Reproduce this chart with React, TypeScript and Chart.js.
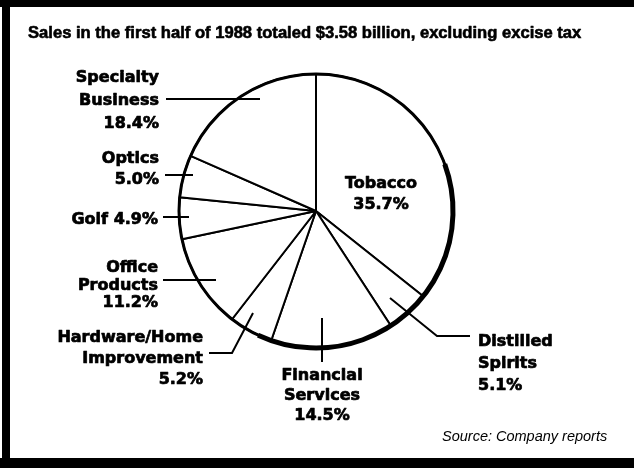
import React, { useEffect, useRef } from "react";
import { Chart, registerables } from "chart.js";

Chart.register(...registerables);

// ---- data ----
const categories = [
  "Tobacco",
  "Distilled Spirits",
  "Financial Services",
  "Hardware/Home Improvement",
  "Office Products",
  "Golf",
  "Optics",
  "Specialty Business",
];
const shares = [35.7, 5.1, 14.5, 5.2, 11.2, 4.9, 5.0, 18.4];
const nameLines = [
  ["Tobacco"],
  ["Distilled", "Spirits"],
  ["Financial", "Services"],
  ["Hardware/Home", "Improvement"],
  ["Office", "Products"],
  ["Golf"],
  ["Optics"],
  ["Specialty", "Business"],
];
const titleText = "Sales in the first half of 1988 totaled $3.58 billion, excluding excise tax";
const sourceText = "Source: Company reports";

// ---- annotation layout (label text positions & leader lines) ----
type Layout = {
  x: number;
  y: number;
  gap: number;
  align: CanvasTextAlign;
  inline?: boolean;
  leader: number[][];
};
const labelLayout: Layout[] = [
  { x: 381, y: 188, gap: 21, align: "center", leader: [] },
  { x: 478, y: 346, gap: 22, align: "left", leader: [[390, 298], [437, 336], [470, 336]] },
  { x: 322, y: 380, gap: 20, align: "center", leader: [[322, 318], [322, 362]] },
  { x: 203, y: 342, gap: 21, align: "right", leader: [[253, 313], [232, 353], [209, 353]] },
  { x: 158, y: 272, gap: 17.5, align: "right", leader: [[163, 280], [216, 280]] },
  { x: 158, y: 224, gap: 0, align: "right", inline: true, leader: [[163, 217], [189, 217]] },
  { x: 159, y: 163, gap: 21, align: "right", leader: [[165, 175], [193, 175]] },
  { x: 159, y: 82, gap: 23, align: "right", leader: [[166, 99], [260, 99]] },
];

const LABEL_FONT = "bold 16px 'DejaVu Sans'";

const framePlugin = {
  id: "frame",
  beforeDraw(chart: any) {
    const ctx = chart.ctx as CanvasRenderingContext2D;
    const W = chart.width;
    const H = chart.height;
    ctx.save();
    ctx.fillStyle = "#ffffff";
    ctx.fillRect(0, 0, W, H);
    ctx.fillStyle = "#000000";
    ctx.fillRect(0, 0, W, 7);
    ctx.fillRect(2, 0, 8, H);
    ctx.fillRect(0, H - 10, W, 10);
    ctx.restore();
  },
};

function heavyText(ctx: CanvasRenderingContext2D, t: string, x: number, y: number, w: number) {
  ctx.fillText(t, x, y);
  ctx.lineWidth = w;
  ctx.lineJoin = "round";
  ctx.strokeText(t, x, y);
}

const annotatePlugin = {
  id: "annotate",
  afterDatasetsDraw(chart: any) {
    const ctx = chart.ctx as CanvasRenderingContext2D;
    const meta = chart.getDatasetMeta(0);
    const first = meta.data[0] as any;
    const { x: cx, y: cy, outerRadius } = first.getProps(["x", "y", "outerRadius"], true);
    ctx.save();
    // heavier outer rim
    ctx.strokeStyle = "#000";
    ctx.lineWidth = 3;
    ctx.beginPath();
    ctx.arc(cx, cy, outerRadius, 0, Math.PI * 2);
    ctx.stroke();
    ctx.lineWidth = 5;
    ctx.beginPath();
    ctx.arc(cx, cy, outerRadius, -Math.PI / 2 + (70 * Math.PI) / 180, -Math.PI / 2 + (205 * Math.PI) / 180);
    ctx.stroke();

    // title
    ctx.fillStyle = "#000";
    ctx.font = "bold 16.6px 'Liberation Sans'";
    ctx.textAlign = "left";
    ctx.textBaseline = "alphabetic";
    heavyText(ctx, titleText, 28, 38, 0.6);

    // labels + leaders
    labelLayout.forEach((lay, i) => {
      const pct = shares[i].toFixed(1) + "%";
      const lines = lay.inline ? [nameLines[i].join(" ") + " " + pct] : [...nameLines[i], pct];
      ctx.font = LABEL_FONT;
      ctx.textAlign = lay.align;
      lines.forEach((t, k) => heavyText(ctx, t, lay.x, lay.y + k * lay.gap, 0.7));
      if (lay.leader.length > 1) {
        ctx.lineWidth = 2;
        ctx.lineCap = "butt";
        ctx.lineJoin = "miter";
        ctx.beginPath();
        lay.leader.forEach(([px, py], k) => (k === 0 ? ctx.moveTo(px, py) : ctx.lineTo(px, py)));
        ctx.stroke();
      }
    });

    // source
    ctx.font = "italic 14.5px 'Liberation Sans'";
    ctx.textAlign = "left";
    ctx.fillText(sourceText, 442, 441);
    ctx.restore();
  },
};

export default function App() {
  const ref = useRef<HTMLCanvasElement | null>(null);
  useEffect(() => {
    if (!ref.current) return;
    const chart = new Chart(ref.current, {
      type: "pie",
      data: {
        labels: categories,
        datasets: [
          {
            data: shares,
            backgroundColor: "#ffffff",
            borderColor: "#000000",
            borderWidth: 2,
            hoverOffset: 0,
          },
        ],
      },
      options: {
        responsive: false,
        animation: false,
        layout: { padding: { left: 178, right: 180, top: 73, bottom: 119 } },
        plugins: {
          legend: { display: false },
          tooltip: { enabled: false },
          title: { display: false },
        },
      },
      plugins: [framePlugin, annotatePlugin],
    });
    return () => chart.destroy();
  }, []);
  return (
    <div style={{ position: "absolute", left: 0, top: 0, width: 634, height: 468, background: "#fff" }}>
      <canvas ref={ref} width={634} height={468} style={{ display: "block" }} />
    </div>
  );
}
